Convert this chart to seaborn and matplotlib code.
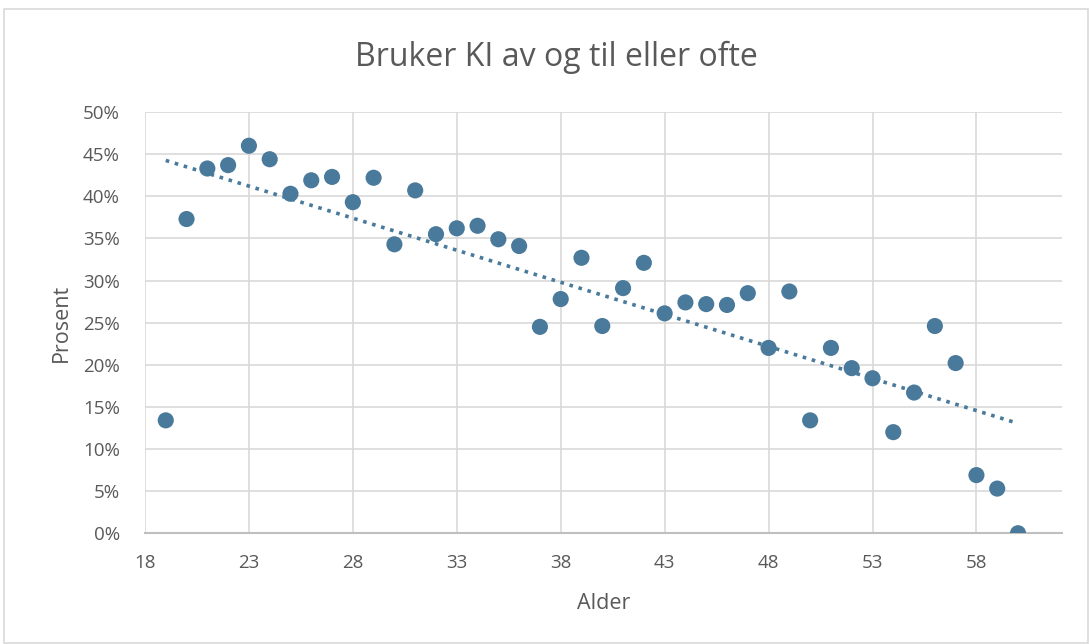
import numpy as np
import pandas as pd
import matplotlib
matplotlib.use("Agg")
import matplotlib.pyplot as plt
import seaborn as sns
from matplotlib.ticker import PercentFormatter, MultipleLocator

# alder og andel som bruker KI av og til eller ofte
alder = list(range(19, 61))
prosent = [13.4, 37.3, 43.3, 43.7, 46.0, 44.4, 40.3, 41.9, 42.3, 39.3,
           42.2, 34.3, 40.7, 35.5, 36.2, 36.5, 34.9, 34.1, 24.5, 27.8,
           32.7, 24.6, 29.1, 32.1, 26.1, 27.4, 27.2, 27.1, 28.5, 22.0,
           28.7, 13.4, 22.0, 19.6, 18.4, 12.0, 16.7, 24.6, 20.2, 6.9,
           5.3, 0.0]
x_ticks = [18, 23, 28, 33, 38, 43, 48, 53, 58]

data = pd.DataFrame({"alder": alder, "prosent": prosent})

sns.set_style("white")
plt.rcParams["font.family"] = ["Open Sans", "DejaVu Sans"]

farge = "#4a7a9b"
tekst = "#595959"

fig = plt.figure(figsize=(10.9, 6.44), dpi=100)
ax = fig.add_axes([0.133, 0.172, 0.841, 0.654])

sns.scatterplot(data=data, x="alder", y="prosent", ax=ax, color=farge,
                s=135, edgecolor="none", zorder=3)

##lineær trendlinje
k, m = np.polyfit(data["alder"], data["prosent"], 1)
xs = np.array([data["alder"].min(), data["alder"].max()])
ax.plot(xs, k * xs + m, color=farge, linestyle=(0, (1, 1.6)), linewidth=2.6,
        zorder=2)

ax.set_xlim(18, 62.1)
ax.set_ylim(0, 50)
ax.set_xticks(x_ticks)
ax.yaxis.set_major_locator(MultipleLocator(5))
ax.yaxis.set_major_formatter(PercentFormatter(decimals=0))
ax.grid(True, color="#d9d9d9", linewidth=1.2)
ax.set_axisbelow(True)
for s in ["top", "right", "left"]:
    ax.spines[s].set_visible(False)
ax.spines["bottom"].set_color("#bfbfbf")
ax.spines["bottom"].set_linewidth(1.5)
ax.tick_params(axis="both", length=0, labelsize=13.5, labelcolor=tekst)
ax.tick_params(axis="x", pad=15)
ax.tick_params(axis="y", pad=18)

ax.set_xlabel("Alder", fontsize=15.5, color=tekst, labelpad=15)
ax.set_ylabel("Prosent", fontsize=15.5, color=tekst, labelpad=8)
fig.text(0.51, 0.911, "Bruker KI av og til eller ofte", fontsize=23,
         color=tekst, ha="center", va="center")

##ramme rundt hele diagrammet
fig.patches.append(plt.Rectangle((0.004, 0.002), 0.994, 0.984,
                                 transform=fig.transFigure, fill=False,
                                 edgecolor="#d9d9d9", linewidth=1.2))

fig.savefig("out.png", dpi=100)
